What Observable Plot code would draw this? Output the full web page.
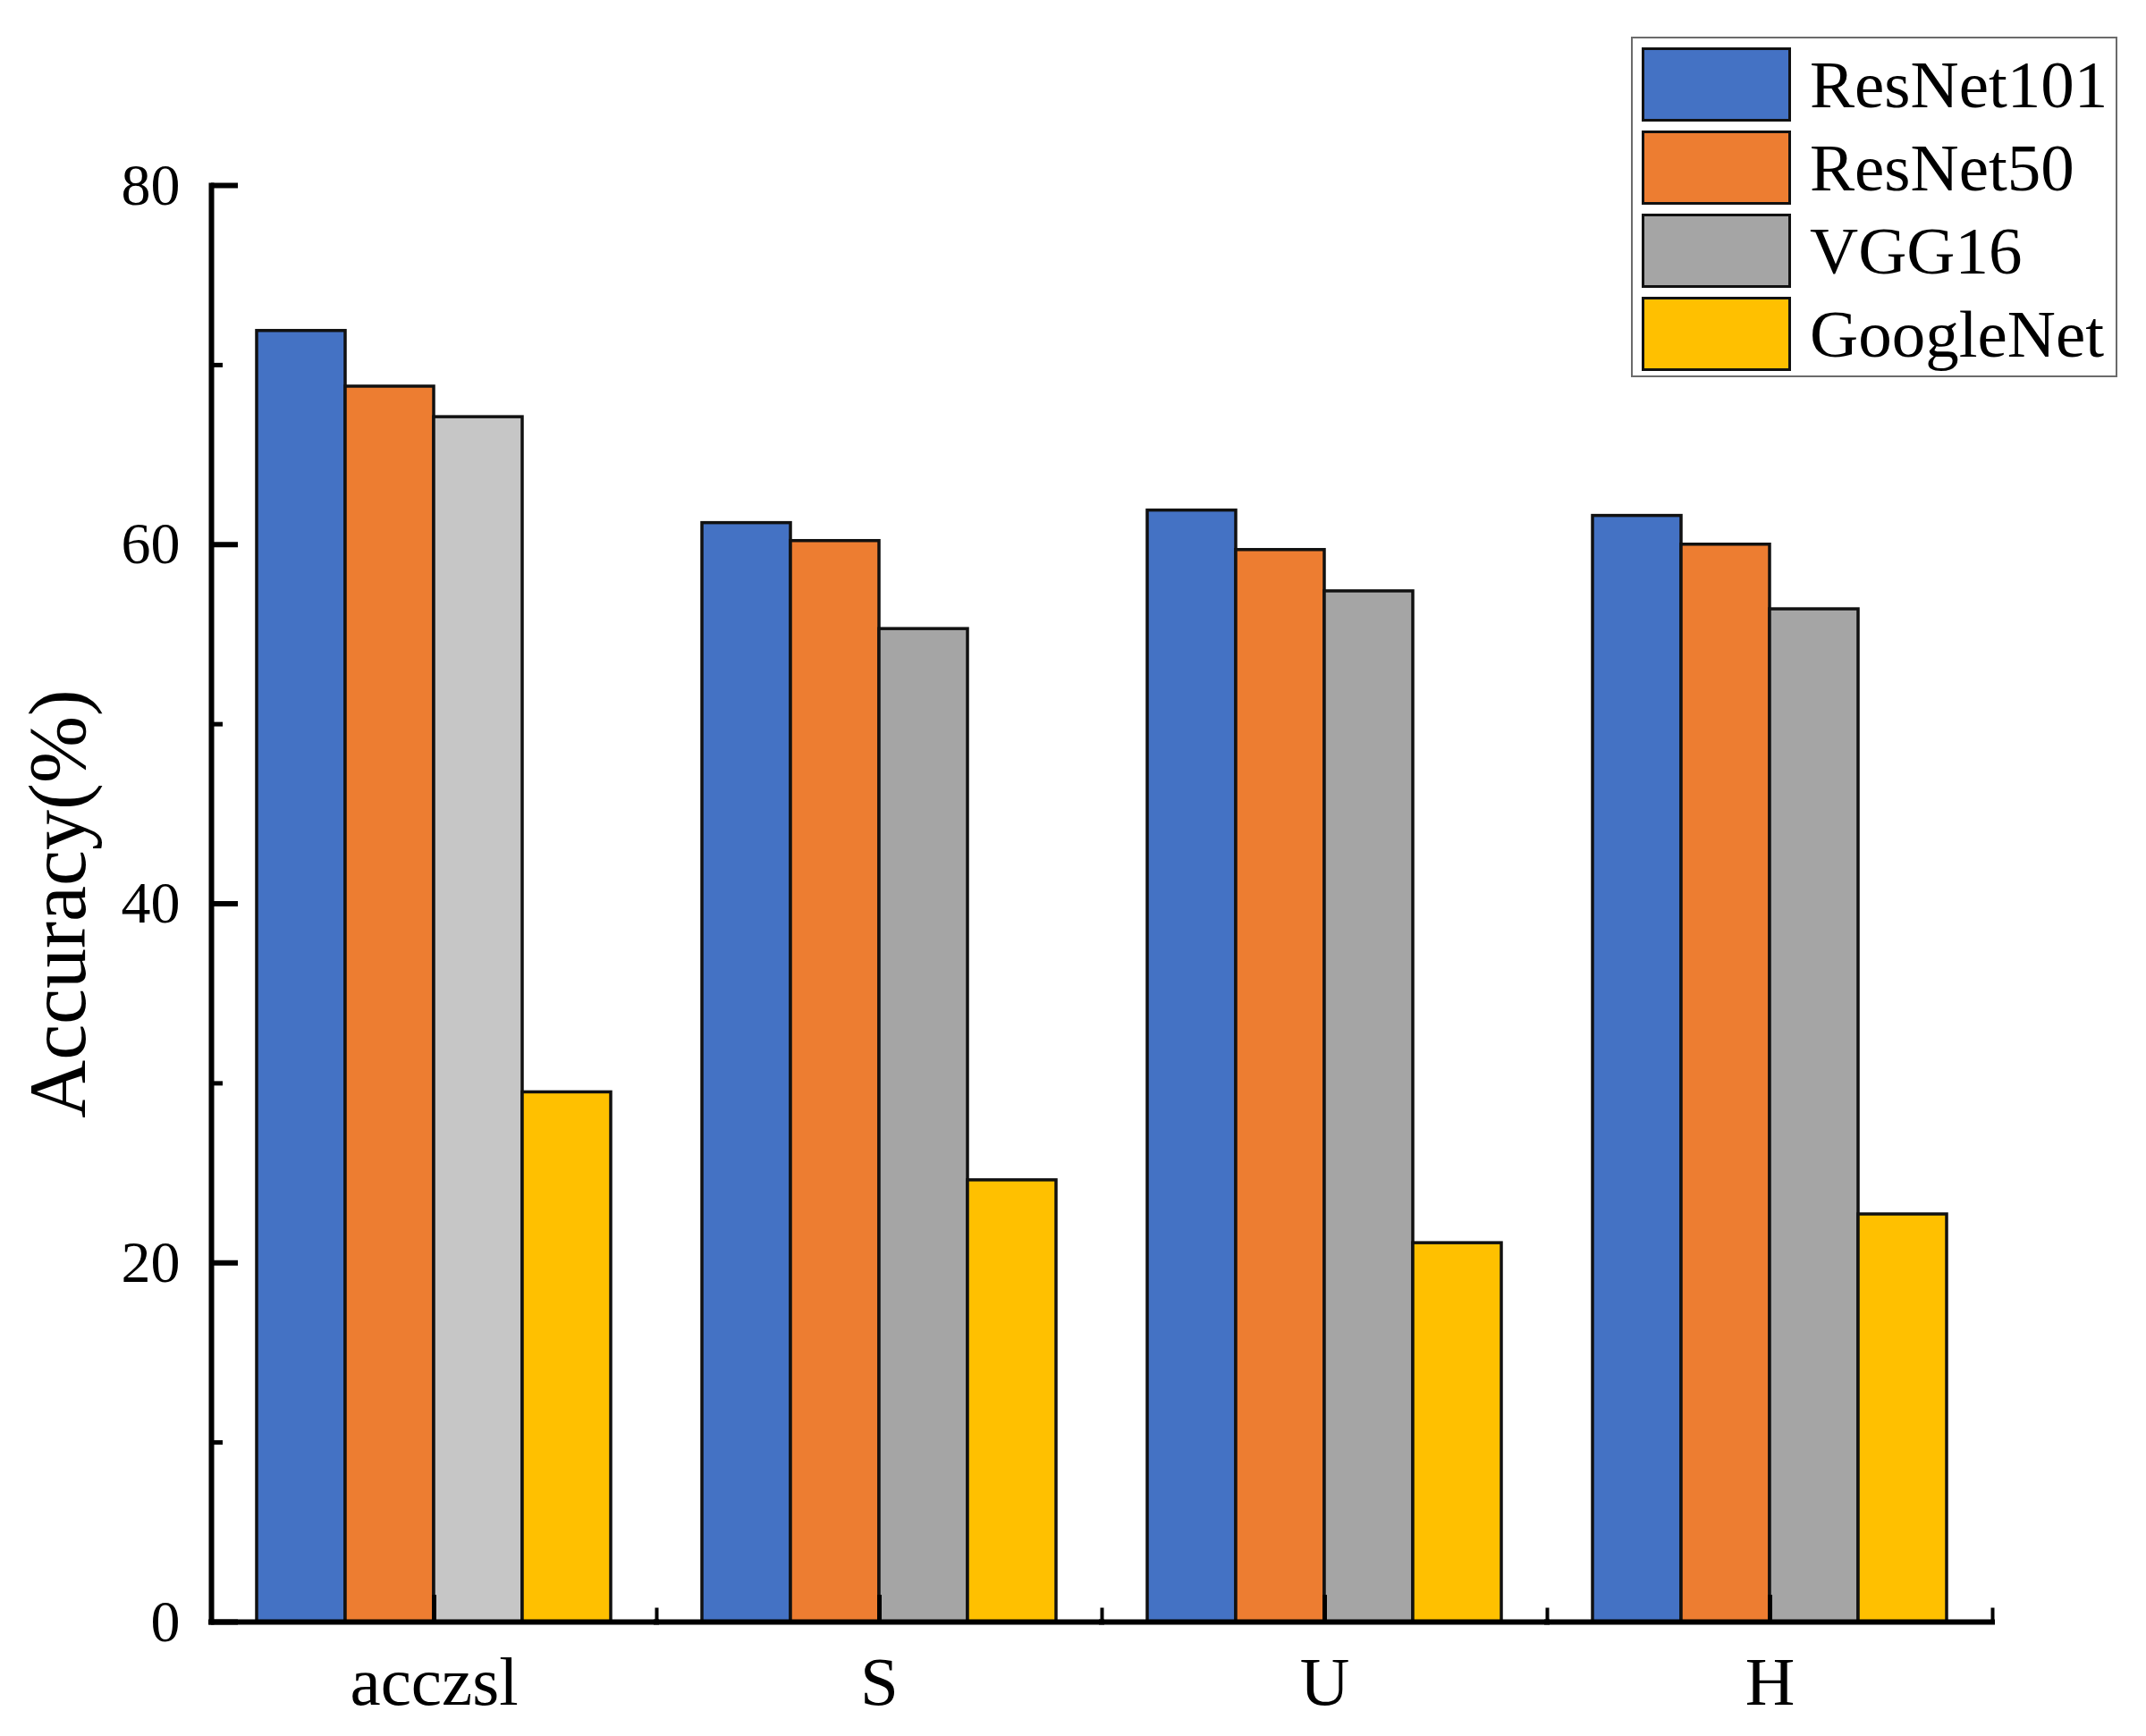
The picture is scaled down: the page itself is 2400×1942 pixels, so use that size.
<!DOCTYPE html>
<html><head><meta charset="utf-8">
<script src="https://cdn.jsdelivr.net/npm/d3@7"></script>
<script src="https://cdn.jsdelivr.net/npm/@observablehq/plot@0.6"></script>
<style>
html,body{margin:0;padding:0;background:#fff;}
#wrap{position:relative;width:2400px;height:1942px;overflow:hidden;}
#legend{position:absolute;left:1824px;top:41px;width:544px;height:381px;border:2px solid #6b6b6b;box-sizing:border-box;background:#fff;padding:5px 0 0 10px;font-family:"Liberation Serif",serif;color:#000;}
.row{display:flex;align-items:center;height:93px;}
.sw{width:167px;height:83px;border:3px solid #111;box-sizing:border-box;flex:none;}
.lab{margin-left:21px;font-size:75px;line-height:1;white-space:nowrap;}
g[aria-label="y-axis label"]{font-size:90px;}
</style></head><body><div id="wrap"></div>
<script>
// ---- data ----
const categories = ["acczsl", "S", "U", "H"];
const models = ["ResNet101", "ResNet50", "VGG16", "GoogleNet"];
const resnet101 = [71.9, 61.2, 61.9, 61.6];
const resnet50 = [68.8, 60.2, 59.7, 60.0];
const vgg16 = [67.1, 55.3, 57.4, 56.4];
const googlenet = [29.5, 24.6, 21.1, 22.7];
const yTicks = [0, 20, 40, 60, 80];
const yMinorTicks = [10, 30, 50, 70];
const yLabel = "Accuracy(%)";

// ---- styles ----
const colors = ["#4472C4", "#ED7D31", "#A5A5A5", "#FFC000"];
const lightGray = "#C6C6C6";

const series = [resnet101, resnet50, vgg16, googlenet];
const rows = [];
categories.forEach((c, i) => models.forEach((m, j) => rows.push({category: c, model: m, value: series[j][i]})));
const fillOf = d => (d.category === "acczsl" && d.model === "VGG16") ? lightGray : colors[models.indexOf(d.model)];

const W = 2400, H = 1942, mt = 207, mb = 128, ml = 234, mr = 171;
const plotH = H - mt - mb;

const chart = Plot.plot({
  width: W, height: H,
  marginTop: mt, marginBottom: mb, marginLeft: ml, marginRight: mr,
  style: {fontFamily: "Liberation Serif", background: "white", color: "black", overflow: "visible"},
  fx: {domain: categories, padding: 0, label: null, axis: null},
  x: {domain: models, paddingInner: 0, paddingOuter: 0.5, axis: null},
  y: {domain: [0, 80], label: null, axis: null},
  marks: [
    Plot.barY(rows, {fx: "category", x: "model", y: "value", fill: fillOf, stroke: "#111", strokeWidth: 3.5}),
    Plot.ruleY([0], {stroke: "#000", strokeWidth: 6, strokeLinecap: "square"}),
    Plot.frame({anchor: "left", facetAnchor: "left", stroke: "#000", strokeWidth: 6, strokeLinecap: "square"}),
    Plot.frame({anchor: "right", insetTop: plotH - 14, stroke: "#000", strokeWidth: 4}),
    Plot.axisY({ticks: yTicks, tickSize: 0, tickPadding: 35, fontSize: 66, label: yLabel, labelAnchor: "center", labelOffset: 205, labelArrow: "none"}),
    Plot.axisY({ticks: yTicks, tickSize: -30, text: null, strokeWidth: 6, label: null}),
    Plot.axisY({ticks: yMinorTicks, tickSize: -13, text: null, strokeWidth: 5, label: null}),
    Plot.axisFx({anchor: "bottom", tickSize: 0, tickPadding: 38, fontSize: 77, label: null}),
    Plot.axisFx({anchor: "bottom", tickSize: -30, text: null, strokeWidth: 5, label: null})
  ]
});

const wrap = document.getElementById("wrap");
wrap.appendChild(chart);

// legend
const legend = document.createElement("div");
legend.id = "legend";
models.forEach((m, j) => {
  const row = document.createElement("div");
  row.className = "row";
  const sw = document.createElement("div");
  sw.className = "sw";
  sw.style.background = colors[j];
  const lab = document.createElement("span");
  lab.className = "lab";
  lab.textContent = m;
  row.appendChild(sw);
  row.appendChild(lab);
  legend.appendChild(row);
});
wrap.appendChild(legend);
</script>
</body></html>
